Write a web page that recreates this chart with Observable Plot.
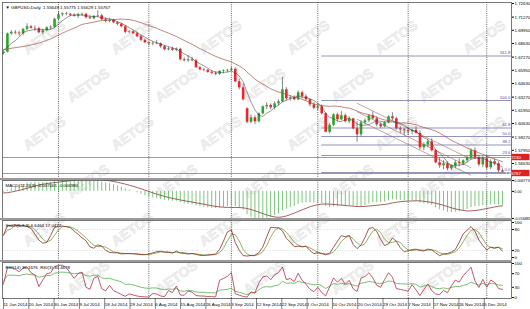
<!DOCTYPE html>
<html><head><meta charset="utf-8">
<script src="https://cdn.jsdelivr.net/npm/d3@7"></script>
<script src="https://cdn.jsdelivr.net/npm/@observablehq/plot@0.6"></script>
<style>
body{margin:0;background:#fff;}
#wrap{position:relative;width:530px;height:309px;overflow:hidden;background:#fff;font-family:"Liberation Sans",Arial,sans-serif;}
.bar{position:absolute;left:0;width:512px;background:#9a9a9a;}
</style></head><body><div id="wrap"></div>
<script>
// ---- daily candles GBPUSD (bar index 0 = 11 Jun 2014)
const O = [1.6762,1.6776,1.6960,1.6975,1.6968,1.6960,1.7005,1.7030,1.7015,1.7010,1.6970,1.6990,1.7020,1.7025,1.7105,1.7150,1.7160,1.7155,1.7145,1.7135,1.7150,1.7155,1.7120,1.7110,1.7135,1.7140,1.7100,1.7085,1.7095,1.7070,1.7055,1.7030,1.6975,1.6980,1.6960,1.6930,1.6895,1.6870,1.6860,1.6865,1.6860,1.6830,1.6800,1.6810,1.6795,1.6805,1.6700,1.6690,1.6700,1.6690,1.6620,1.6600,1.6595,1.6575,1.6565,1.6555,1.6585,1.6590,1.6595,1.6605,1.6480,1.6420,1.6210,1.6075,1.6120,1.6080,1.6160,1.6230,1.6245,1.6220,1.6260,1.6280,1.6400,1.6310,1.6320,1.6300,1.6370,1.6330,1.6300,1.6250,1.6215,1.6230,1.6160,1.5975,1.6045,1.6150,1.6100,1.6140,1.6080,1.6110,1.6010,1.5950,1.6070,1.6090,1.6140,1.6110,1.6050,1.6030,1.6070,1.6130,1.6110,1.6010,1.6000,1.5990,1.5980,1.5995,1.5965,1.5820,1.5850,1.5880,1.5790,1.5670,1.5640,1.5660,1.5610,1.5640,1.5670,1.5660,1.5690,1.5720,1.5790,1.5720,1.5650,1.5710,1.5620,1.5680,1.5660,1.5590];
const H = [1.6792,1.6968,1.6990,1.6993,1.6985,1.7012,1.7060,1.7045,1.7040,1.7025,1.7005,1.7030,1.7040,1.7115,1.7180,1.7170,1.7175,1.7165,1.7160,1.7165,1.7168,1.7165,1.7145,1.7140,1.7191,1.7155,1.7120,1.7110,1.7105,1.7080,1.7065,1.7045,1.6995,1.6990,1.6975,1.6945,1.6910,1.6880,1.6880,1.6895,1.6870,1.6845,1.6825,1.6825,1.6820,1.6815,1.6720,1.6740,1.6725,1.6705,1.6635,1.6615,1.6605,1.6590,1.6580,1.6590,1.6600,1.6605,1.6625,1.6620,1.6510,1.6460,1.6220,1.6150,1.6140,1.6170,1.6240,1.6270,1.6260,1.6280,1.6300,1.6525,1.6420,1.6340,1.6340,1.6390,1.6385,1.6350,1.6310,1.6270,1.6260,1.6250,1.6170,1.6060,1.6160,1.6165,1.6185,1.6160,1.6130,1.6115,1.6080,1.6090,1.6110,1.6150,1.6180,1.6130,1.6070,1.6080,1.6140,1.6170,1.6125,1.6030,1.6010,1.6010,1.6005,1.6030,1.5990,1.5870,1.5900,1.5910,1.5800,1.5720,1.5690,1.5680,1.5650,1.5690,1.5710,1.5700,1.5735,1.5810,1.5820,1.5745,1.5730,1.5740,1.5700,1.5710,1.5680,1.5610];
const L = [1.6748,1.6770,1.6945,1.6950,1.6935,1.6940,1.6990,1.7005,1.6985,1.6960,1.6950,1.6980,1.7000,1.7015,1.7095,1.7130,1.7140,1.7130,1.7125,1.7115,1.7130,1.7110,1.7105,1.7100,1.7120,1.7090,1.7070,1.7070,1.7060,1.7040,1.7020,1.6960,1.6960,1.6950,1.6920,1.6880,1.6860,1.6840,1.6840,1.6850,1.6815,1.6790,1.6790,1.6785,1.6780,1.6690,1.6680,1.6675,1.6680,1.6615,1.6590,1.6580,1.6565,1.6550,1.6540,1.6545,1.6560,1.6570,1.6585,1.6470,1.6400,1.6290,1.6060,1.6060,1.6052,1.6070,1.6150,1.6200,1.6200,1.6200,1.6240,1.6270,1.6290,1.6285,1.6290,1.6290,1.6310,1.6290,1.6230,1.6200,1.6190,1.6150,1.5970,1.5960,1.6030,1.6080,1.6090,1.6070,1.6060,1.6000,1.5875,1.5930,1.6050,1.6070,1.6100,1.6030,1.6010,1.6020,1.6060,1.6090,1.6000,1.5960,1.5940,1.5945,1.5950,1.5955,1.5800,1.5790,1.5820,1.5780,1.5660,1.5615,1.5600,1.5590,1.5590,1.5610,1.5630,1.5640,1.5670,1.5700,1.5700,1.5630,1.5620,1.5600,1.5600,1.5640,1.5570,1.5570];
const C = [1.6776,1.6960,1.6975,1.6968,1.6960,1.7005,1.7030,1.7015,1.7010,1.6970,1.6990,1.7020,1.7025,1.7105,1.7150,1.7160,1.7155,1.7145,1.7135,1.7150,1.7155,1.7120,1.7110,1.7135,1.7140,1.7100,1.7085,1.7095,1.7070,1.7055,1.7030,1.6975,1.6980,1.6960,1.6930,1.6895,1.6870,1.6860,1.6865,1.6860,1.6830,1.6800,1.6810,1.6795,1.6805,1.6700,1.6690,1.6700,1.6690,1.6620,1.6600,1.6595,1.6575,1.6565,1.6555,1.6585,1.6590,1.6595,1.6605,1.6480,1.6420,1.6300,1.6075,1.6120,1.6080,1.6160,1.6230,1.6245,1.6220,1.6260,1.6280,1.6400,1.6310,1.6320,1.6300,1.6370,1.6330,1.6300,1.6250,1.6215,1.6230,1.6160,1.5975,1.6045,1.6150,1.6100,1.6140,1.6080,1.6110,1.6010,1.5950,1.6070,1.6090,1.6140,1.6110,1.6050,1.6030,1.6070,1.6130,1.6110,1.6010,1.6000,1.5990,1.5980,1.5995,1.5965,1.5820,1.5850,1.5880,1.5790,1.5670,1.5640,1.5660,1.5610,1.5640,1.5670,1.5660,1.5690,1.5720,1.5790,1.5720,1.5650,1.5710,1.5620,1.5680,1.5660,1.5590,1.5577];
// closes of the 20 sessions before the first bar (used only to seed the averages)
const warmC = [1.6800,1.6790,1.6820,1.6830,1.6850,1.6880,1.6900,1.6830,1.6840,1.6780,1.6730,1.6720,1.6760,1.6730,1.6740,1.6780,1.6810,1.6800,1.6830,1.6775];

// ---- axis / annotation values
const priceTicks = [1.7263,1.7127,1.6995,1.6863,1.6727,1.6595,1.6463,1.6327,1.6195,1.6063,1.5927,1.5795,1.5663];
const redLevels = [1.5723, 1.5563];
const redLabels = ["1.57230", "1.55767"];
const fibPct = [0, 23.6, 38.2, 50.0, 61.8, 100.0, 161.8];
const fibLow = 1.5573, fibHigh = 1.6293, fibStart = 81;
const chanStart = [90, 1.6180], chanEnd = [119, 1.5620], chanOffsets = [0.0085, 0, -0.0075];
const monthSeps = [14, 37, 58, 80, 103, 123];
const dateTickPos = [0, 6.44, 12.88, 19.32, 25.76, 32.2, 38.64, 45.08, 51.52, 57.96, 64.4, 70.84, 77.28, 83.72, 90.16, 96.6, 103.04, 109.48, 115.92, 122.36];
const dateLabels = ["11 Jun 2014","20 Jun 2014","30 Jun 2014","9 Jul 2014","18 Jul 2014","29 Jul 2014","6 Aug 2014","15 Aug 2014","26 Aug 2014","3 Sep 2014","12 Sep 2014","22 Sep 2014","1 Oct 2014","10 Oct 2014","20 Oct 2014","29 Oct 2014","7 Nov 2014","17 Nov 2014","26 Nov 2014","5 Dec 2014"];
const macdTicks = [0.006773, 0, -0.016883];
const macdTickLabels = ["0.006773", "0.00", "-0.016883"];
const stochTicks = [100, 80, 20, 0];
const rsiTicks = [100, 70, 30, 0];
const titleMain = "▼ GBPUSD,Daily  1.55649 1.55775 1.55629 1.55767";
const titleMacd = "MACD(12,26,9) -0.007001 -0.006980";
const titleStoch = "Stoch(5,3,3) 6.6464 17.0477";
const titleRsi = "RSI(14) 36.1676  RSI(3) 30.4678";

// ---- indicators derived from the candles
const N = C.length, W0 = warmC.length;
const idx = d3.range(N);
const allC = warmC.concat(C);
function sma(a, n){ return a.map((_, i) => d3.mean(a.slice(Math.max(0, i-n+1), i+1))); }
function ema(a, n){ const k = 2/(n+1); const r = []; a.forEach((v,i)=> r.push(i? r[i-1] + k*(v - r[i-1]) : v)); return r; }
function rsi(a, n){ let g = 0, l = 0; const r = [50];
  for (let i = 1; i < a.length; i++){ const d = a[i]-a[i-1]; const up = Math.max(d,0), dn = Math.max(-d,0);
    if (i <= n){ g = (g*(i-1)+up)/i; l = (l*(i-1)+dn)/i; } else { g = (g*(n-1)+up)/n; l = (l*(n-1)+dn)/n; }
    r.push(l === 0 ? 100 : 100 - 100/(1+g/l)); }
  return r; }
const tail = a => a.slice(W0);
const ma20 = tail(sma(allC, 20)), ma5 = tail(sma(allC, 5));
const e12 = ema(allC, 12), e26 = ema(allC, 26);
const macdAll = e12.map((v,i) => v - e26[i]);
const macdMain = tail(macdAll), macdSig = tail(sma(macdAll, 9));
const KP = 5;
const rawK = idx.map(i => { const hh = d3.max(H.slice(Math.max(0,i-KP+1), i+1)), ll = d3.min(L.slice(Math.max(0,i-KP+1), i+1)); return [C[i]-ll, hh-ll]; });
const stochK = idx.map(i => { const s = rawK.slice(Math.max(0,i-2), i+1); const a = d3.sum(s, d=>d[0]), b = d3.sum(s, d=>d[1]); return b ? 100*a/b : 50; });
const stochD = sma(stochK, 3);
const rsiFast = tail(rsi(allC, 3)), rsiSlow = tail(rsi(allC, 14));

// ---- layout
const wrap = document.getElementById("wrap");
const FONT = "'Liberation Sans', Arial, sans-serif";
const NARROW = "'Liberation Sans Narrow', 'Liberation Sans', Arial, sans-serif";
const XD = [-0.25, 129.3];
const bull = "#2aa52a", bear = "#e8262c";

// watermark layer (decoration)
{
  const s = d3.select(wrap).append("svg").attr("width", 530).attr("height", 309).style("position", "absolute").style("left", 0).style("top", 0);
  for (let r = 0; r < 6; r++) for (let c = 0; c < 6; c++) {
    const cx = 45 + c*88 + (r%2)*44, cy = 38 + r*48;
    if (cx > 490) continue;
    s.append("text").attr("x", cx).attr("y", cy).attr("text-anchor", "middle").attr("dominant-baseline", "middle")
      .attr("transform", `rotate(-35 ${cx} ${cy})`).attr("font-family", FONT).attr("font-weight", "bold").attr("font-size", 14)
      .attr("fill", "#f0f0f0").attr("stroke", "#e4e4e4").attr("stroke-width", 0.5).text("AETOS");
  }
}

function panel(top, height, ydom, marks){
  const svg = Plot.plot({
    width: 530, height, marginLeft: 2, marginRight: 19, marginTop: 0, marginBottom: 0,
    x: {domain: XD, axis: null}, y: {domain: ydom, axis: null},
    style: {background: "transparent", fontFamily: NARROW, fontSize: "4.4px", overflow: "visible", color: "#000"},
    marks
  });
  svg.style.position = "absolute"; svg.style.left = "0px"; svg.style.top = top + "px";
  wrap.appendChild(svg);
  return svg;
}
const seps = () => Plot.ruleX(monthSeps, {stroke: "#222", strokeWidth: 0.7, strokeDasharray: "1,1.2"});
const frame = () => Plot.frame({stroke: "#555", strokeWidth: 0.8});
const yAxis = (ticks, fmt) => Plot.axisY(ticks, {anchor: "right", tickSize: 2, tickPadding: 1, tickFormat: fmt, fontSize: 4.4, fontFamily: NARROW, label: null});
const title = t => Plot.text([t], {frameAnchor: "top-left", text: d => d, textAnchor: "start", dx: 3, dy: 3.5, fontSize: 4.4, fontFamily: NARROW});

// main panel
const fibData = fibPct.map(p => ({p, v: fibLow + (fibHigh - fibLow)*p/100}));
const chan = chanOffsets.map(o => ({x1: chanStart[0], y1: chanStart[1]+o, x2: chanEnd[0], y2: chanEnd[1]+o}));
const candles = idx.map(i => ({i, o: O[i], h: H[i], l: L[i], c: C[i], up: C[i] >= O[i]}));
const main = panel(2, 176, [1.5513, 1.7273], [
  seps(),
  Plot.ruleY(redLevels, {stroke: "#c84a4a", strokeWidth: 0.7}),
  Plot.ruleY(fibData, {y: "v", x1: fibStart, x2: XD[1], stroke: "#7878a8", strokeWidth: 0.8}),
  Plot.text(fibData, {y: "v", x: XD[1], text: d => d.p.toFixed(1), textAnchor: "end", dx: -1, dy: -3, fill: "#5050a0", fontSize: 4.3}),
  Plot.link(chan, {x1: "x1", y1: "y1", x2: "x2", y2: "y2", stroke: "#9a6a6a", strokeWidth: 0.6}),
  Plot.ruleX(candles, {x: "i", y1: "l", y2: "h", stroke: "#333", strokeWidth: 0.6}),
  Plot.ruleX(candles, {x: "i", y1: "o", y2: d => Math.abs(d.c - d.o) < 0.0004 ? d.o + (d.up ? 0.0004 : -0.0004) : d.c, stroke: d => d.up ? bull : bear, strokeWidth: 2.6}),
  Plot.line(idx, {x: i => i, y: i => ma20[i], stroke: "#a4504a", strokeWidth: 0.7}),
  Plot.line(idx, {x: i => i, y: i => ma5[i], stroke: "#333", strokeWidth: 0.5}),
  yAxis(priceTicks, d => d.toFixed(5)),
  frame(),
  title(titleMain)
]);
{
  const ys = main.scale("y");
  const g = d3.select(main).append("g");
  redLevels.forEach((v, k) => {
    const y = ys.apply(v);
    g.append("rect").attr("x", 511.5).attr("y", y - 3.2).attr("width", 18).attr("height", 6.4).attr("fill", "#e02020");
    g.append("text").attr("x", 513).attr("y", y + 1.6).attr("fill", "#fff").attr("font-size", 4.4).attr("font-family", NARROW).text(redLabels[k]);
  });
}

// MACD
panel(180, 38, [-0.016883, 0.006773], [
  seps(),
  Plot.ruleX(idx, {x: i => i, y1: 0, y2: i => macdMain[i], stroke: "#5cb85c", strokeWidth: 0.8}),
  Plot.line(idx, {x: i => i, y: i => macdSig[i], stroke: "#8b3a3a", strokeWidth: 0.8}),
  Plot.axisY(macdTicks, {anchor: "right", tickSize: 2, tickPadding: 0.8, tickFormat: (d, k) => macdTickLabels[k], fontSize: 3.7, fontFamily: NARROW, label: null}),
  frame(),
  title(titleMacd)
]);

// Stochastic
panel(220, 40, [-8.6, 105.7], [
  seps(),
  Plot.ruleY([20, 80], {stroke: "#bbb", strokeWidth: 0.5, strokeDasharray: "1,1.5"}),
  Plot.line(idx, {x: i => i, y: i => stochD[i], stroke: "#6ea040", strokeWidth: 0.8}),
  Plot.line(idx, {x: i => i, y: i => stochK[i], stroke: "#8b2a2a", strokeWidth: 0.8}),
  yAxis(stochTicks),
  frame(),
  title(titleStoch)
]);

// RSI
panel(262, 36, [-2.9, 102.9], [
  seps(),
  Plot.line(idx, {x: i => i, y: i => rsiSlow[i], stroke: "#55b055", strokeWidth: 0.8}),
  Plot.line(idx, {x: i => i, y: i => rsiFast[i], stroke: "#b03048", strokeWidth: 0.8}),
  yAxis(rsiTicks),
  frame(),
  title(titleRsi)
]);

// date strip
panel(298, 11, [0, 1], [
  Plot.tickX(dateTickPos, {y1: 1, y2: 0.8, stroke: "#000", strokeWidth: 0.5}),
  Plot.text(dateLabels, {x: (d, k) => dateTickPos[k], y: 0.45, text: d => d, textAnchor: "start", fontSize: 4.4, fontFamily: NARROW})
]);

// splitters
[[178, 2], [218, 2], [260, 2]].forEach(([t, h]) => { const b = document.createElement("div"); b.className = "bar"; b.style.top = t + "px"; b.style.height = h + "px"; wrap.appendChild(b); });
</script></body></html>
